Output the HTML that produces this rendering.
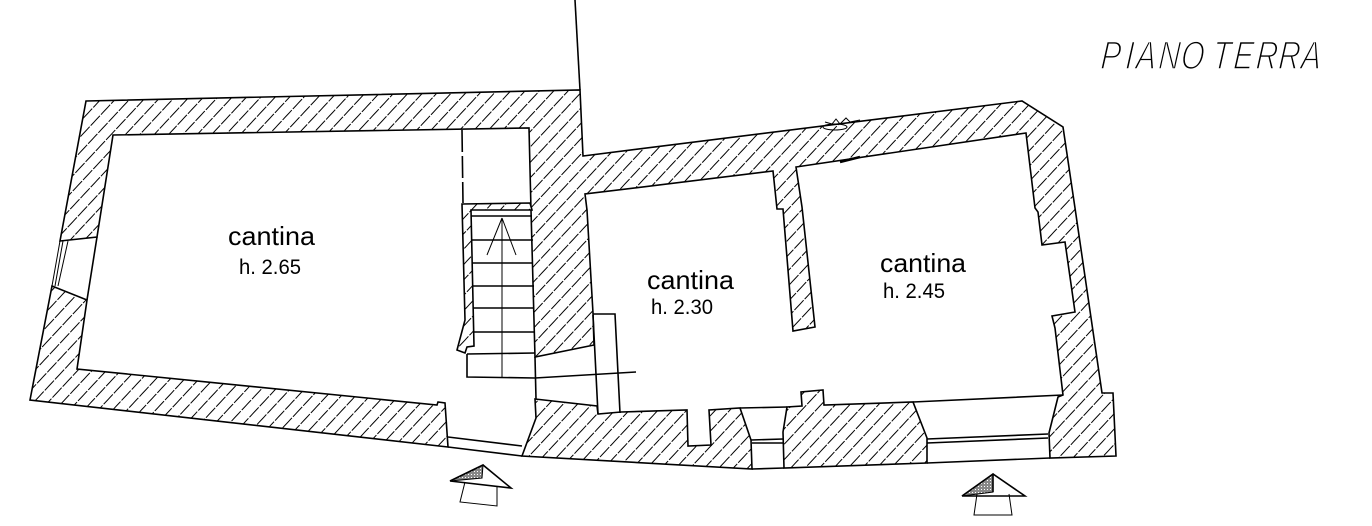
<!DOCTYPE html>
<html lang="it">
<head>
<meta charset="utf-8">
<title>Piano Terra</title>
<style>
html,body{margin:0;padding:0;background:#fff;width:1372px;height:526px;overflow:hidden}
svg{display:block}
.w{fill:url(#h);stroke:#000;stroke-width:1.6;stroke-linejoin:miter}
.l{fill:none;stroke:#000;stroke-width:1.6}
.t{fill:none;stroke:#000;stroke-width:1}
.lab{font-family:"Liberation Sans",sans-serif;fill:#000}
</style>
</head>
<body>
<svg width="1372" height="526" viewBox="0 0 1372 526" xmlns="http://www.w3.org/2000/svg">
<defs>
<pattern id="h" width="15" height="10.5" patternUnits="userSpaceOnUse" patternTransform="rotate(-47)">
<rect width="15" height="10.5" fill="#fff"/>
<line x1="0" y1="5" x2="15" y2="5" stroke="#000" stroke-width="1" stroke-dasharray="13.5 1.5"/>
</pattern>
<pattern id="d" width="3" height="3" patternUnits="userSpaceOnUse">
<rect width="3" height="3" fill="#888"/>
<rect width="1" height="1" fill="#fff"/>
</pattern>
</defs>

<!-- hatched walls -->
<polygon class="w" points="86,101 580,90 583,156 1022,101 1063,127 1075,208 1102,393 1113,393 1116,456 1050,458 1049,433 1058,397 1063,395 1055,328 1052,316 1075,312 1065,242 1042,245 1038,212 1035,208 1026,133 796,167 802,207 815,327 793,331 783,209 777,209 773,171 585,194 587,210 593,313 594,345 535,357 531,210 529,128 113,135 97,237 60,241"/>
<polygon class="w" points="52,286 87,300 77,369 437,405 438,402 445,403 448,447 30,400"/>
<polygon class="w" points="462,204 530,203 532,210 471,210 474,346 467,347 465,353 457,350 465,320"/>
<polygon class="w" points="535,399 597,406 598,414 621,412 687,410 688,446 711,445 709,410 740,408 751,440 752,469 522,456 536,418"/>
<polygon class="w" points="787,407 783,432 784,468 927,463 927,438 913,402 824,405 823,390 801,392 802,406"/>

<!-- connecting lines -->
<path class="l" d="M575,0L580,90"/>
<path class="l" d="M448,447L522,456M448,437L522,446"/>
<path class="l" d="M752,469L784,468M751,440L783,439M752,443L783,443M740,408L787,407"/>
<path class="l" d="M927,463L1050,458M927,439L1048,434M927,443L1048,438M913,402L1063,395"/>
<path class="l" d="M97,237L87,300"/>
<path class="t" d="M60,241L52,286M63,241L55,286M68,241L58,286"/>
<path class="l" d="M535,357L536,399"/>

<!-- stairs -->
<path class="l" d="M471,216H532M471,240H533M472,263H533M472,286H534M473,308H534M474,332H534M467,354L535,353M467,354L467,377L535,378"/>
<path class="t" d="M502,218V377M502,218L487,255M502,218L516,255"/>
<path class="l" d="M535,378L636,372"/>
<path class="l" d="M593,314L615,314L620,413M593,315L598,414"/>
<path class="l" d="M462,130L463,203" stroke-dasharray="22 4"/>

<!-- scribbles on wall -->
<path class="t" d="M825,122L832,124L836,119L840,124L846,118L850,122L860,120"/>
<ellipse cx="835" cy="127" rx="12" ry="3" fill="none" stroke="#000" stroke-width="1"/>
<path d="M840,162L860,157" stroke="#000" stroke-width="2.5" fill="none"/>

<!-- entrance arrows -->
<polygon points="450,481 483,465 482,478" fill="url(#d)" stroke="#000" stroke-width="1"/>
<path class="l" d="M450,481L483,465L511,488L450,481"/>
<path class="t" d="M465,482L460,502L497,506L497,487"/>
<polygon points="962,496 993,474 993,492" fill="url(#d)" stroke="#000" stroke-width="1"/>
<path class="l" d="M962,496L993,474L1025,496L962,496M993,474V492"/>
<path class="t" d="M977,494L974,515H1012L1009,494"/>

<!-- labels -->
<text class="lab" x="228" y="245" font-size="26" textLength="87" lengthAdjust="spacingAndGlyphs">cantina</text>
<text class="lab" x="239" y="274" font-size="21" textLength="62" lengthAdjust="spacingAndGlyphs">h. 2.65</text>
<text class="lab" x="647" y="289" font-size="26" textLength="87" lengthAdjust="spacingAndGlyphs">cantina</text>
<text class="lab" x="651" y="314" font-size="21" textLength="62" lengthAdjust="spacingAndGlyphs">h. 2.30</text>
<text class="lab" x="880" y="272" font-size="26" textLength="86" lengthAdjust="spacingAndGlyphs">cantina</text>
<text class="lab" x="883" y="298" font-size="21" textLength="62" lengthAdjust="spacingAndGlyphs">h. 2.45</text>

<g transform="translate(1100,69) scale(.75,1) skewX(-6)">
<text class="lab" font-size="40" font-style="italic" stroke="#fff" stroke-width="1.6" x="0 33 47 77 107 149 177 207 237 267" y="0">PIANOTERRA</text>
</g>
</svg>
</body>
</html>
